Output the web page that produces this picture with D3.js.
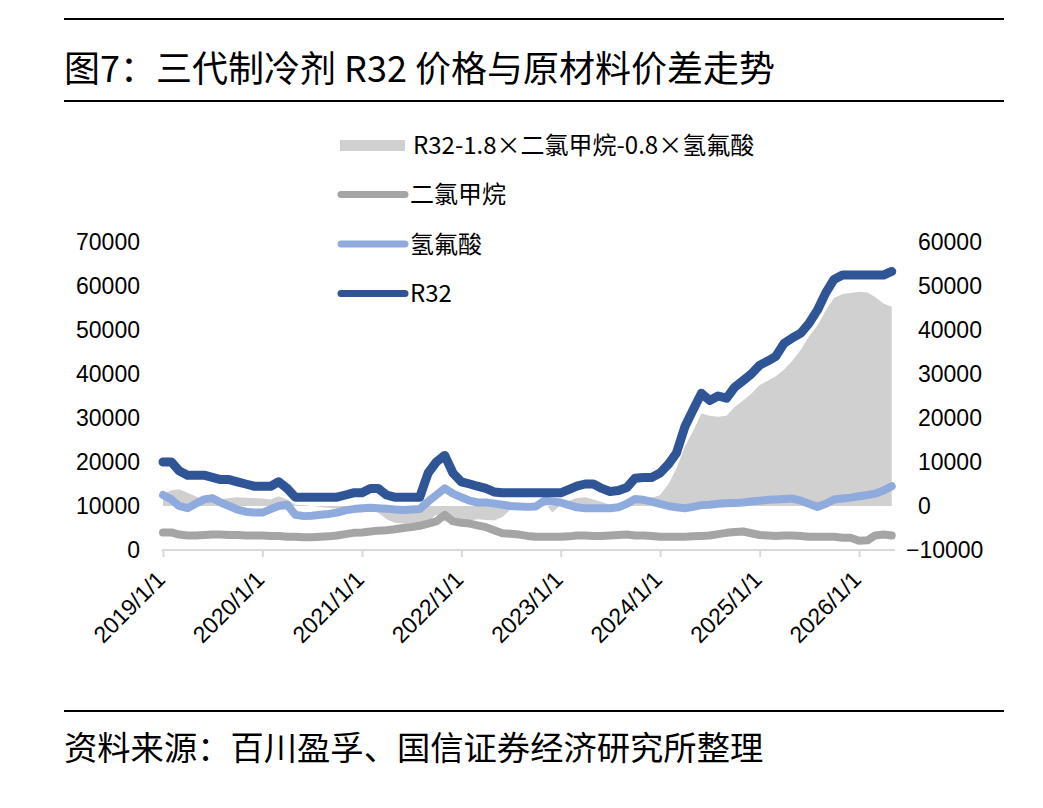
<!DOCTYPE html>
<html>
<head>
<meta charset="utf-8">
<script src="https://cdn.jsdelivr.net/npm/d3@7"></script>
<style>
  body { margin: 0; background: #fff; }
  text { font-family: "Noto Sans CJK SC", sans-serif; fill: #000; }
  .num { font-family: "Liberation Sans", Arial, sans-serif; }
</style>
</head>
<body>
<div id="mount"></div>
<script>
// monthly readings, Jan 2019 .. May 2026
var firstMonth = '2019-01-01';

// R32 price, left axis (yuan/t)
var r32 = [20000, 20000, 18000, 17000, 17000, 17000, 16500, 16000, 16000, 15500, 15000, 14500,
  14500, 14500, 15500, 14000, 12000, 12000, 12000, 12000, 12000, 12000, 12500, 13000,
  13000, 14000, 14000, 12500, 12000, 12000, 12000, 12000, 17500, 20000, 21500, 17500,
  15500, 15000, 14500, 14000, 13200, 13000, 13000, 13000, 13000, 13000, 13000, 13000,
  13000, 13800, 14500, 15000, 15000, 14000, 13300, 13500, 14200, 16300, 16500, 16500,
  17500, 19500, 22000, 28000, 31800, 35600, 34000, 35000, 34500, 37000, 38500, 40000,
  42000, 43000, 44000, 47000, 48200, 49300, 51500, 54500, 58500, 61500, 62500, 62500,
  62500, 62500, 62500, 62500, 63300];

// dichloromethane, left axis
var dcm = [4000, 4000, 3500, 3300, 3300, 3400, 3500, 3500, 3400, 3400, 3300, 3300,
  3300, 3200, 3200, 3000, 3000, 2900, 2900, 3000, 3100, 3300, 3600, 3900,
  4000, 4200, 4400, 4500, 4700, 5000, 5200, 5500, 6000, 6500, 8000, 6500,
  6200, 6000, 5600, 5200, 4500, 3800, 3700, 3500, 3200, 3000, 3000, 3000,
  3000, 3100, 3300, 3300, 3200, 3200, 3300, 3400, 3500, 3300, 3300, 3200,
  3000, 3000, 3000, 3000, 3100, 3200, 3300, 3600, 3900, 4100, 4200, 3800,
  3400, 3300, 3200, 3300, 3300, 3200, 3000, 3000, 3000, 3000, 2800, 2800,
  2100, 2200, 3300, 3500, 3300];

// hydrofluoric acid, left axis
var hf = [12500, 11500, 10000, 9500, 10500, 11500, 11800, 10800, 10000, 9200, 8700, 8500,
  8500, 9300, 10000, 10300, 8000, 7700, 7800, 8000, 8200, 8500, 9000, 9300,
  9500, 9600, 9500, 9400, 9200, 9100, 9200, 9300, 11000, 12500, 14000, 12800,
  12000, 11200, 10800, 10800, 10600, 10300, 10000, 9900, 9800, 9900, 11200, 11000,
  10800, 10200, 9700, 9500, 9500, 9500, 9500, 9700, 10500, 11600, 11400, 11000,
  10500, 10000, 9700, 9500, 9800, 10200, 10300, 10500, 10600, 10700, 10800, 11000,
  11200, 11400, 11500, 11600, 11700, 11200, 10500, 9800, 10500, 11500, 11700, 11900,
  12200, 12500, 12800, 13500, 14500];

// spread R32-1.8xDCM-0.8xHF, right axis
var spread = [2800, 3600, 3800, 3000, 2200, 1200, 900, 1500, 1800, 2000, 1900, 1800,
  1700, 1500, 2200, 1500, 300, 200, 0, -200, -400, -600, -900, -1200,
  -1500, -1000, -1500, -3000, -3800, -4000, -4200, -4400, -3500, -2000, -3500, -3000,
  -3500, -3300, -3000, -3200, -3300, -2500, -800, -500, 0, -600, 1000, -1500,
  200, 1200, 1800, 2000, 1500, 900, 300, 300, 400, 900, 1200, 1800,
  2500, 5000, 8500, 13500, 17000, 21000, 20500, 20300, 20500, 22500, 24000, 25500,
  27500, 28500, 29500, 31000, 33000, 35500, 38500, 41000, 44500, 47300, 48200, 48400,
  48700, 48500, 47500, 46000, 45300];

var seriesNames = ['R32-1.8×二氯甲烷-0.8×氢氟酸', '二氯甲烷', '氢氟酸', 'R32'];
var leftTicks = [0, 10000, 20000, 30000, 40000, 50000, 60000, 70000];
var rightTicks = [-10000, 0, 10000, 20000, 30000, 40000, 50000, 60000];
var yearTicks = ['2019/1/1', '2020/1/1', '2021/1/1', '2022/1/1', '2023/1/1', '2024/1/1', '2025/1/1', '2026/1/1'];
var titleText = '图7：三代制冷剂 R32 价格与原材料价差走势';
var sourceText = '资料来源：百川盈孚、国信证券经济研究所整理';

var W = 1043, H = 808;
var colors = ['#d0d0d0', '#a5a5a5', '#8faadc', '#2f5597'];

var svg = d3.select('#mount').append('svg')
    .attr('width', W)
    .attr('height', H);

// header / footer rules and texts
svg.append('line').attr('x1', 64).attr('x2', 1004).attr('y1', 19).attr('y2', 19)
    .attr('stroke', '#000').attr('stroke-width', 2);
svg.append('line').attr('x1', 64).attr('x2', 1004).attr('y1', 101).attr('y2', 101)
    .attr('stroke', '#000').attr('stroke-width', 2);
svg.append('line').attr('x1', 64).attr('x2', 1004).attr('y1', 711).attr('y2', 711)
    .attr('stroke', '#000').attr('stroke-width', 2);
svg.append('text').attr('x', 64).attr('y', 82)
    .style('font-size', '36px').text(titleText);
svg.append('text').attr('x', 64).attr('y', 760)
    .style('font-size', '33.3px').text(sourceText);

// scales
var parseDate = d3.timeParse('%Y-%m-%d');
var start = parseDate(firstMonth);
var months = r32.map((d, i) => d3.timeMonth.offset(start, i));

var x = d3.scaleTime()
    .domain([start, new Date(2026, 4, 13)])
    .range([163, 895]);
var yL = d3.scaleLinear().domain([0, 70000]).range([550, 242]);
var yR = d3.scaleLinear().domain([-10000, 60000]).range([550, 242]);

// spread area on the right axis
var area = d3.area()
    .x((d, i) => x(months[i]))
    .y0(yR(0))
    .y1(d => yR(d));

svg.append('path')
    .datum(spread)
    .attr('d', area)
    .attr('fill', colors[0]);

// price lines on the left axis
var line = d3.line()
    .x((d, i) => x(months[i]))
    .y(d => yL(d));

[dcm, hf, r32].forEach((s, k) => {
  svg.append('path')
      .datum(s)
      .attr('d', line)
      .attr('fill', 'none')
      .attr('stroke', colors[k + 1])
      .attr('stroke-width', k == 2 ? 9 : 8)
      .attr('stroke-linejoin', 'round')
      .attr('stroke-linecap', 'round');
});

// x axis
var yearDates = yearTicks.map(d3.timeParse('%Y/%-m/%-d'));
var xAxis = d3.axisBottom(x)
    .tickValues(yearDates)
    .tickFormat((d, i) => yearTicks[i])
    .tickSize(7)
    .tickSizeOuter(0);

var gx = svg.append('g')
    .attr('transform', 'translate(0,550)')
    .call(xAxis);
gx.select('.domain').attr('stroke', '#d9d9d9').attr('stroke-width', 2)
    .attr('d', 'M162,0H895');
gx.selectAll('.tick line').attr('stroke', '#d9d9d9').attr('stroke-width', 2);
gx.selectAll('.tick text')
    .attr('class', 'num')
    .style('font-size', '23px')
    .attr('fill', '#000')
    .attr('text-anchor', 'end')
    .attr('dy', null)
    .attr('y', 0)
    .attr('transform', 'translate(3,31) rotate(-45)');

// left axis
var gl = svg.append('g')
    .attr('transform', 'translate(140,0)')
    .call(d3.axisLeft(yL).tickValues(leftTicks).tickFormat(d3.format('d')).tickSize(0));
gl.select('.domain').remove();
gl.selectAll('.tick text')
    .attr('class', 'num')
    .attr('x', 0)
    .style('font-size', '23px')
    .attr('fill', '#000');

// right axis
var gr = svg.append('g')
    .attr('transform', 'translate(918,0)')
    .call(d3.axisRight(yR).tickValues(rightTicks).tickFormat(d => d < 0 ? '−' + Math.abs(d) : d).tickSize(0));
gr.select('.domain').remove();
gr.selectAll('.tick text')
    .attr('class', 'num')
    .attr('x', d => d < 0 ? -12 : 0)
    .style('font-size', '23px')
    .attr('fill', '#000');

// legend
var legend = svg.append('g');
seriesNames.forEach((name, i) => {
  var cy = 145 + i * 49.5;
  if (i == 0) {
    legend.append('rect').attr('x', 340).attr('y', cy - 5).attr('width', 65).attr('height', 11)
        .attr('fill', colors[0]);
  } else {
    legend.append('line').attr('x1', 341).attr('x2', 405).attr('y1', cy).attr('y2', cy)
        .attr('stroke', colors[i]).attr('stroke-width', 7).attr('stroke-linecap', 'round');
  }
  legend.append('text')
      .attr('x', i == 0 ? 413 : 410)
      .attr('y', cy)
      .attr('dy', '0.36em')
      .style('font-size', '24px')
      .text(name);
});
</script>
</body>
</html>
